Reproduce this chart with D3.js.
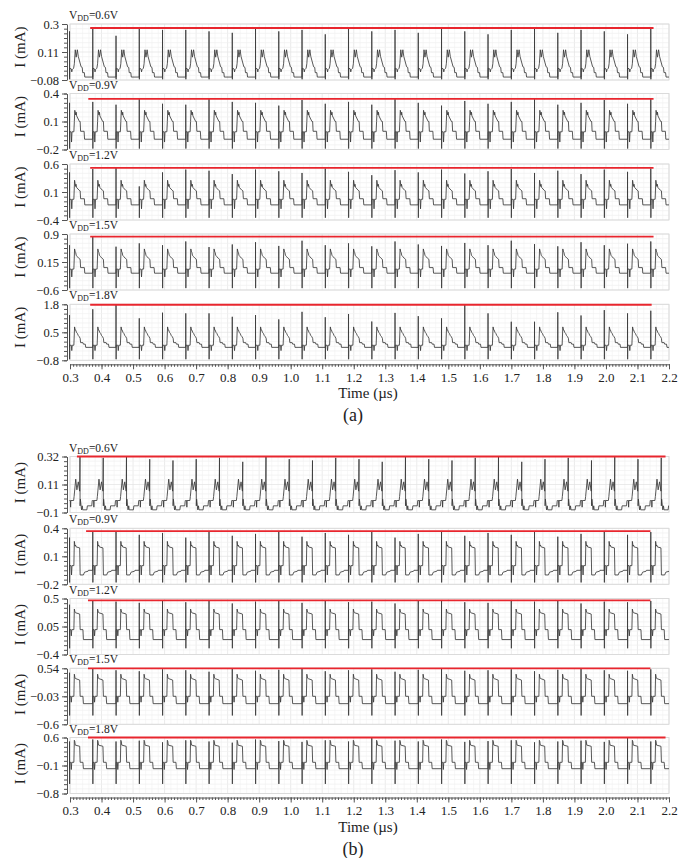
<!DOCTYPE html>
<html>
<head>
<meta charset="utf-8">
<script src="https://cdnjs.cloudflare.com/ajax/libs/d3/7.8.5/d3.min.js"></script>
<style>
  body { margin: 0; background: #fff; }
  svg text { font-family: "Liberation Serif", "Times New Roman", serif; fill: #222; }
</style>
</head>
<body>
<div id="chart"></div>
<script>
// time axis (µs)
var timeTicks = [0.3, 0.4, 0.5, 0.6, 0.7, 0.8, 0.9, 1.0, 1.1, 1.2, 1.3, 1.4, 1.5, 1.6, 1.7, 1.8, 1.9, 2.0, 2.1, 2.2];
var period = 0.07375;      // 13.56 MHz carrier
var firstSpike = 0.372;    // time of the first full spike

var vddLabels = ["0.6V", "0.9V", "1.2V", "1.5V", "1.8V"];

// ---- group (a) ----
var yDomainA = [[-0.08, 0.3], [-0.2, 0.4], [-0.4, 0.6], [-0.6, 0.9], [-0.8, 1.8]];
var yTicksA = [[-0.08, 0.11, 0.3], [-0.2, 0.1, 0.4], [-0.4, 0.1, 0.6], [-0.6, 0.15, 0.9], [-0.8, 0.5, 1.8]];
var yLabelsA = [["−0.08", "0.11", "0.3"], ["−0.2", "0.1", "0.4"], ["−0.4", "0.1", "0.6"], ["−0.6", "0.15", "0.9"], ["−0.8", "0.5", "1.8"]];
var redLevelA = [0.273, 0.342, 0.53, 0.83, 1.78];
var redSpanA = [[0.364, 2.151], [0.358, 2.151], [0.364, 2.151], [0.364, 2.151], [0.364, 2.145]];

// one period of each waveform: [phase, current mA]; null = spike top of that cycle
var shapeA1 = [[0, -0.06], [0.003, null], [0.007, -0.075], [0.012, 0.0], [0.08, -0.005], [0.1, -0.025], [0.12, -0.01], [0.18, 0.0], [0.21, 0.03], [0.25, 0.125], [0.29, 0.075], [0.34, 0.125], [0.38, 0.08], [0.5, 0.01], [0.55, 0.005], [0.57, -0.03], [0.64, -0.03], [0.66, -0.06], [0.997, -0.06]];
var shapeA2 = [[0, -0.09], [0.003, null], [0.007, -0.19], [0.012, -0.01], [0.07, -0.01], [0.09, -0.12], [0.11, -0.01], [0.19, -0.01], [0.21, 0.1], [0.23, 0.22], [0.27, 0.17], [0.29, 0.2], [0.31, 0.16], [0.43, 0.1], [0.46, 0.1], [0.48, -0.005], [0.63, -0.005], [0.65, -0.09], [0.997, -0.09]];
var shapeA3 = [[0, -0.13], [0.003, null], [0.007, -0.36], [0.012, -0.03], [0.08, -0.03], [0.1, -0.2], [0.12, -0.03], [0.19, -0.03], [0.22, 0.31], [0.26, 0.2], [0.28, 0.24], [0.31, 0.18], [0.42, 0.13], [0.46, 0.12], [0.48, -0.02], [0.64, -0.02], [0.66, -0.13], [0.997, -0.13]];
var shapeA4 = [[0, -0.15], [0.003, null], [0.007, -0.55], [0.012, -0.04], [0.08, -0.04], [0.1, -0.25], [0.12, -0.04], [0.19, -0.04], [0.22, 0.5], [0.25, 0.42], [0.27, 0.4], [0.29, 0.33], [0.33, 0.3], [0.4, 0.25], [0.46, 0.22], [0.48, 0.0], [0.64, 0.0], [0.66, -0.15], [0.997, -0.15]];
var shapeA5 = [[0, -0.2], [0.003, null], [0.007, -0.75], [0.012, -0.1], [0.08, -0.1], [0.1, -0.35], [0.12, -0.1], [0.19, -0.1], [0.22, 0.75], [0.25, 0.6], [0.27, 0.6], [0.3, 0.5], [0.34, 0.45], [0.38, 0.35], [0.42, 0.3], [0.46, 0.22], [0.48, 0.02], [0.58, 0.02], [0.6, -0.05], [0.68, -0.05], [0.7, -0.2], [0.997, -0.2]];

// spike tops, one per cycle (cycle -1 .. 24)
var spikesA1 = [0.25, 0.27, 0.22, 0.27, 0.26, 0.26, 0.25, 0.24, 0.27, 0.25, 0.26, 0.23, 0.27, 0.25, 0.26, 0.24, 0.27, 0.25, 0.23, 0.26, 0.27, 0.24, 0.26, 0.25, 0.23, 0.27];
var spikesA2 = [0.3, 0.31, 0.28, 0.34, 0.29, 0.28, 0.34, 0.31, 0.3, 0.27, 0.33, 0.29, 0.31, 0.28, 0.34, 0.3, 0.27, 0.32, 0.29, 0.31, 0.34, 0.28, 0.3, 0.33, 0.29, 0.34];
var spikesA3 = [0.45, 0.51, 0.53, 0.2, 0.45, 0.5, 0.48, 0.42, 0.5, 0.47, 0.44, 0.52, 0.46, 0.4, 0.49, 0.45, 0.5, 0.43, 0.47, 0.51, 0.44, 0.48, 0.42, 0.5, 0.46, 0.52];
var spikesA4 = [0.6, 0.83, 0.56, 0.65, 0.6, 0.7, 0.55, 0.62, 0.68, 0.58, 0.72, 0.6, 0.65, 0.57, 0.7, 0.62, 0.58, 0.66, 0.6, 0.72, 0.63, 0.57, 0.68, 0.6, 0.64, 0.7];
var spikesA5 = [1.3, 1.57, 1.78, 1.15, 1.41, 1.38, 1.38, 1.22, 1.3, 1.1, 1.45, 1.2, 1.35, 1.0, 1.4, 1.25, 1.15, 1.77, 1.38, 0.99, 0.99, 1.43, 1.28, 1.53, 1.38, 1.5];

// ---- group (b) ----
var yDomainB = [[-0.1, 0.32], [-0.2, 0.4], [-0.4, 0.5], [-0.6, 0.54], [-0.8, 0.6]];
var yTicksB = [[-0.1, 0.11, 0.32], [-0.2, 0.1, 0.4], [-0.4, 0.05, 0.5], [-0.6, -0.03, 0.54], [-0.8, -0.1, 0.6]];
var yLabelsB = [["−0.1", "0.11", "0.32"], ["−0.2", "0.1", "0.4"], ["−0.4", "0.05", "0.5"], ["−0.6", "−0.03", "0.54"], ["−0.8", "−0.1", "0.6"]];
var redLevelB = [0.32, 0.37, 0.47, 0.54, 0.6];
var redSpanB = [[0.322, 2.189], [0.351, 2.141], [0.357, 2.141], [0.357, 2.141], [0.357, 2.189]];

var shapeB1 = [[0, -0.01], [0.04, -0.01], [0.05, -0.06], [0.06, -0.01], [0.18, -0.01], [0.2, 0.02], [0.27, 0.15], [0.32, 0.07], [0.38, 0.13], [0.44, 0.06], [0.453, null], [0.457, -0.05], [0.47, 0.0], [0.52, -0.08], [0.55, -0.05], [0.57, -0.08], [0.75, -0.08], [0.77, -0.05], [0.96, -0.05], [0.98, -0.01], [0.997, -0.01]];
var shapeB2 = [[0, -0.05], [0.003, null], [0.007, -0.18], [0.012, 0.0], [0.07, 0.0], [0.09, -0.1], [0.11, 0.0], [0.19, 0.0], [0.21, 0.26], [0.24, 0.21], [0.26, 0.22], [0.29, 0.2], [0.44, 0.19], [0.46, -0.1], [0.6, -0.1], [0.65, -0.07], [0.8, -0.06], [0.82, -0.05], [0.997, -0.05]];
var shapeB3 = [[0, -0.16], [0.003, null], [0.007, -0.3], [0.012, 0.0], [0.06, 0.0], [0.08, -0.1], [0.1, 0.0], [0.19, 0.0], [0.21, 0.33], [0.24, 0.28], [0.27, 0.27], [0.44, 0.25], [0.46, 0.0], [0.58, 0.0], [0.6, -0.16], [0.997, -0.16]];
var shapeB4 = [[0, -0.18], [0.003, null], [0.007, -0.42], [0.012, -0.03], [0.06, -0.03], [0.08, -0.15], [0.1, -0.03], [0.19, -0.03], [0.21, 0.42], [0.24, 0.34], [0.27, 0.33], [0.44, 0.3], [0.46, -0.03], [0.58, -0.03], [0.6, -0.18], [0.997, -0.18]];
var shapeB5 = [[0, -0.18], [0.003, null], [0.007, -0.56], [0.012, -0.02], [0.06, -0.02], [0.08, -0.2], [0.1, -0.02], [0.19, -0.02], [0.21, 0.53], [0.23, 0.5], [0.25, 0.41], [0.44, 0.38], [0.46, -0.02], [0.58, -0.02], [0.6, -0.18], [0.997, -0.18]];

var spikesB1 = [0.32, 0.31, 0.32, 0.3, 0.29, 0.3, 0.31, 0.28, 0.32, 0.3, 0.29, 0.31, 0.3, 0.28, 0.32, 0.3, 0.29, 0.31, 0.32, 0.28, 0.3, 0.31, 0.29, 0.32, 0.3, 0.31];
var spikesB2 = [0.3, 0.36, 0.37, 0.33, 0.35, 0.3, 0.36, 0.32, 0.34, 0.37, 0.31, 0.35, 0.33, 0.36, 0.3, 0.34, 0.37, 0.32, 0.35, 0.33, 0.36, 0.31, 0.34, 0.37, 0.33, 0.36];
var spikesB3 = [0.4, 0.47, 0.45, 0.43, 0.46, 0.44, 0.47, 0.42, 0.45, 0.46, 0.43, 0.47, 0.44, 0.45, 0.42, 0.46, 0.47, 0.44, 0.43, 0.46, 0.45, 0.47, 0.42, 0.45, 0.44, 0.46];
var spikesB4 = [0.45, 0.54, 0.5, 0.48, 0.52, 0.5, 0.47, 0.53, 0.49, 0.51, 0.54, 0.48, 0.5, 0.52, 0.47, 0.51, 0.53, 0.49, 0.5, 0.52, 0.48, 0.51, 0.54, 0.5, 0.49, 0.52];
var spikesB5 = [0.5, 0.55, 0.5, 0.52, 0.48, 0.53, 0.5, 0.47, 0.55, 0.51, 0.49, 0.53, 0.5, 0.6, 0.52, 0.5, 0.55, 0.49, 0.51, 0.53, 0.48, 0.5, 0.52, 0.49, 0.6, 0.5];

var width = 689, height = 858;
var left = 70, right = 669, panelH = 56;

var groups = [
  { name: "(a)", tops: [24, 93.5, 164, 234, 304.3], domains: yDomainA, ticks: yTicksA, labels: yLabelsA,
    red: redLevelA, redSpan: redSpanA, shapes: [shapeA1, shapeA2, shapeA3, shapeA4, shapeA5],
    spikes: [spikesA1, spikesA2, spikesA3, spikesA4, spikesA5], titleShift: -5 },
  { name: "(b)", tops: [456.5, 528.3, 598.5, 668.3, 737.5], domains: yDomainB, ticks: yTicksB, labels: yLabelsB,
    red: redLevelB, redSpan: redSpanB, shapes: [shapeB1, shapeB2, shapeB3, shapeB4, shapeB5],
    spikes: [spikesB1, spikesB2, spikesB3, spikesB4, spikesB5], titleShift: -2 }
];

var svg = d3.select("#chart").append("svg")
  .attr("width", width)
  .attr("height", height);

svg.append("defs").append("clipPath")
  .attr("id", "plotClip")
  .append("rect")
  .attr("x", left - 1).attr("y", -5)
  .attr("width", right - left + 1).attr("height", panelH + 10);

var x = d3.scaleLinear().domain([0.3, 2.2]).range([left, right]);

//Repeat each one-period shape over the cycles shown
function buildSeries(shape, spikes) {
  var pts = [];
  for (var k = -1; k <= 24; k++) {
    shape.forEach(function(p) {
      pts.push([firstSpike + (k + p[0]) * period, p[1] === null ? spikes[k + 1] : p[1]]);
    });
  }
  return pts;
}

groups.forEach(function(g) {
  g.tops.forEach(function(top, i) {
    var dom = g.domains[i];
    var panel = svg.append("g").attr("transform", "translate(0," + top + ")");
    var yl = d3.scaleLinear().domain(dom).range([panelH, 0]);

    // grid
    var vMinor = d3.range(30, 221, 2).map(function(d) { return d / 100; });
    panel.selectAll(".vminor").data(vMinor).enter().append("line")
      .attr("x1", d => x(d)).attr("x2", d => x(d))
      .attr("y1", 0).attr("y2", panelH)
      .attr("stroke", d => (Math.round(d * 100) % 10 === 0) ? "#e2e2e2" : "#f3f3f3")
      .attr("stroke-width", 0.7);
    var hMinor = d3.range(13).map(function(j) { return dom[0] + j * (dom[1] - dom[0]) / 12; });
    panel.selectAll(".hminor").data(hMinor).enter().append("line")
      .attr("x1", left).attr("x2", right)
      .attr("y1", d => yl(d)).attr("y2", d => yl(d))
      .attr("stroke", (d, j) => j % 6 === 0 ? "#e2e2e2" : "#f0f0f0")
      .attr("stroke-width", 0.7);
    panel.append("rect")
      .attr("x", left).attr("y", 0)
      .attr("width", right - left).attr("height", panelH)
      .attr("fill", "none").attr("stroke", "#d8d8d8").attr("stroke-width", 0.8);

    // waveform
    var line = d3.line().x(d => x(d[0])).y(d => yl(d[1]));
    panel.append("path")
      .datum(buildSeries(g.shapes[i], g.spikes[i]))
      .attr("clip-path", "url(#plotClip)")
      .attr("fill", "none")
      .attr("stroke", "#3a3a3a")
      .attr("stroke-width", 0.85)
      .attr("d", line);

    // red max line
    panel.append("line")
      .attr("x1", x(g.redSpan[i][0])).attr("x2", x(g.redSpan[i][1]))
      .attr("y1", yl(g.red[i])).attr("y2", yl(g.red[i]))
      .attr("stroke", "#e8262e").attr("stroke-width", 1.8);

    // y axis
    var yAxis = panel.append("g").attr("transform", "translate(67,0)")
      .call(d3.axisLeft(yl).tickValues(g.ticks[i]).tickSize(5).tickSizeOuter(0)
        .tickFormat((d, j) => g.labels[i][j]));
    yAxis.append("g").call(d3.axisLeft(yl).tickValues(hMinor).tickSize(3).tickFormat(""))
      .select(".domain").remove();
    yAxis.attr("font-family", "Liberation Serif").attr("font-size", 12.5);
    yAxis.selectAll("line, path").attr("stroke", "#555");
    yAxis.selectAll("text").attr("fill", "#222");

    // axis title
    panel.append("text")
      .attr("transform", "translate(25," + (panelH / 2 + g.titleShift) + ") rotate(-90)")
      .attr("text-anchor", "middle")
      .attr("font-size", 15)
      .text("I (mA)");

    // VDD label
    var lab = panel.append("text").attr("x", left - 1).attr("y", -5).attr("font-size", 11.5);
    lab.append("tspan").text("V");
    lab.append("tspan").attr("font-size", 8).attr("dy", 2).text("DD");
    lab.append("tspan").attr("dy", -2).text("=" + vddLabels[i]);
  });

  // time axis under the last panel
  var axisY = g.tops[4] + panelH + 4;
  var xAxis = svg.append("g").attr("transform", "translate(0," + axisY + ")")
    .call(d3.axisBottom(x).tickValues(timeTicks).tickSize(5).tickSizeOuter(0)
      .tickFormat(d3.format(".1f")));
  xAxis.append("g").call(d3.axisBottom(x).tickValues(d3.range(30, 221).map(d => d / 100))
    .tickSize(2.5).tickFormat("")).select(".domain").remove();
  xAxis.attr("font-family", "Liberation Serif").attr("font-size", 13);
  xAxis.selectAll("line, path").attr("stroke", "#555");
  xAxis.selectAll("text").attr("fill", "#222");

  svg.append("text")
    .attr("x", 368).attr("y", axisY + 34)
    .attr("text-anchor", "middle").attr("font-size", 15)
    .text("Time (µs)");
  svg.append("text")
    .attr("x", 353).attr("y", axisY + 57)
    .attr("text-anchor", "middle").attr("font-size", 18)
    .text(g.name);
});
</script>
</body>
</html>
